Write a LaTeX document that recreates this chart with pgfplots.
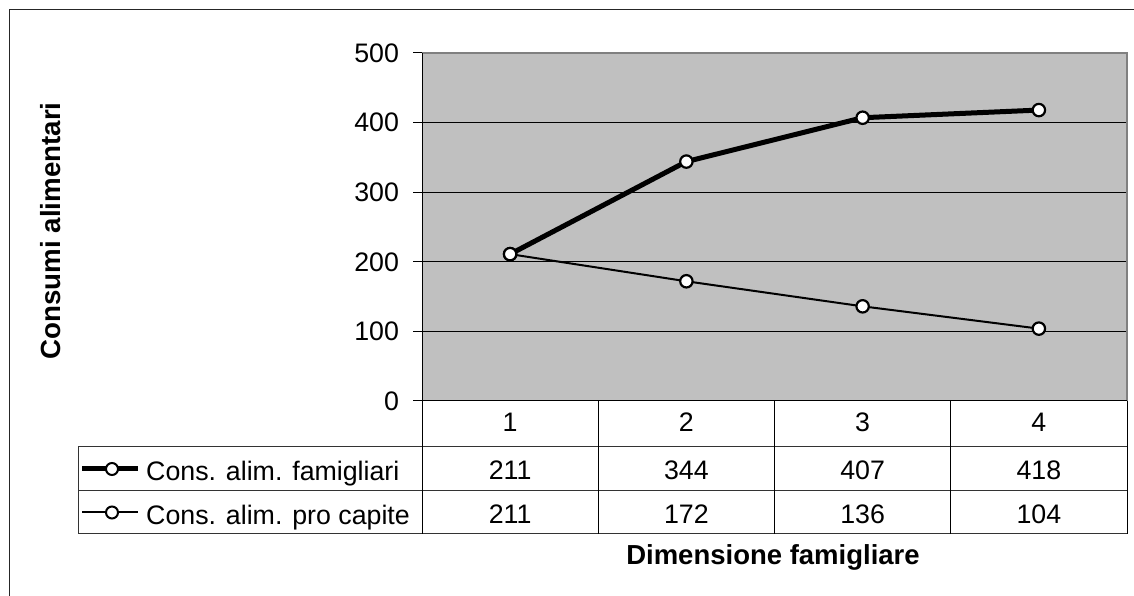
\documentclass[border=0pt]{standalone}
\usepackage{pgfplots}
\pgfplotsset{compat=1.18}
\usepackage{fontspec}
\setmainfont{Liberation Sans}
\definecolor{plotbg}{RGB}{192,192,192}
\definecolor{framegray}{RGB}{128,128,128}
\begin{document}
\fontsize{26.75}{32}\selectfont
\begin{tikzpicture}[x=1pt,y=1pt]
\useasboundingbox (0,0) rectangle (1134,596);
\draw[line width=1.5pt, black!85] (9.5,-2) -- (9.5,586.5) -- (1136,586.5);
\begin{axis}[
 at={(422pt,195pt)}, anchor=south west,
 scale only axis, width=705pt, height=348pt,
 xmin=0.5, xmax=4.5, ymin=0, ymax=500,
 xtick=\empty, ytick={0,100,...,500},
 ytick pos=left, tick align=outside, major tick length=9pt,
 tick style={black, line width=1pt},
 axis line style={draw=none},
 ymajorgrids, grid style={black, line width=1pt},
 axis background/.style={fill=plotbg},
 yticklabel style={font=\fontsize{26.75}{32}\selectfont, xshift=-5pt},
 /pgf/number format/assume math mode=true,
 clip=false,
]
\addplot[black, line width=2pt, mark=*, mark size=6.2pt, mark options={fill=white, draw=black, line width=2.2pt}]
 coordinates {(1,211) (2,172) (3,136) (4,104)};
\addplot[black, line width=5pt, mark=*, mark size=6.2pt, mark options={fill=white, draw=black, line width=2.2pt}]
 coordinates {(1,211) (2,344) (3,407) (4,418)};
\draw[framegray, line width=1.5pt] (rel axis cs:0,1) -- (rel axis cs:1,1) -- (rel axis cs:1,0);
\draw[black, line width=1pt] (rel axis cs:0,0) -- (rel axis cs:0,1);
\end{axis}
% data table grid
\draw[black, line width=1pt] (422,195) -- (1127,195);
\draw[black!80, line width=1pt] (78,149) -- (1127,149) (78,105) -- (1127,105) (78,62) -- (1127,62);
\draw[black!80, line width=1pt] (78,149) -- (78,62);
\draw[black, line width=1pt] (422,195) -- (422,62) (598.25,195) -- (598.25,62) (774.5,195) -- (774.5,62) (950.75,195) -- (950.75,62) (1127,195) -- (1127,62);
% categories
\foreach \x/\t in {510.1/1,686.4/2,862.6/3,1038.9/4} \node[anchor=base, inner sep=0] at (\x,164) {\t};
\foreach \x/\t in {510.1/211,686.4/344,862.6/407,1038.9/418} \node[anchor=base, inner sep=0] at (\x,116) {\t};
\foreach \x/\t in {510.1/211,686.4/172,862.6/136,1038.9/104} \node[anchor=base, inner sep=0] at (\x,72) {\t};
% legend keys
\draw[black, line width=5pt] (82,127) -- (138,127);
\draw[black, line width=2pt, fill=white] (112,127) circle (6pt);
\node[anchor=base west, inner sep=0] at (146,115) {Cons. alim. famigliari};
\draw[black, line width=2pt] (82,83.5) -- (138,83.5);
\draw[black, line width=2pt, fill=white] (112,83.5) circle (6pt);
\node[anchor=base west, inner sep=0] at (146,71) {Cons. alim. pro capite};
% axis titles
\node[rotate=90, font=\fontsize{27.7}{33}\selectfont\bfseries, inner sep=0] at (51,365) {Consumi alimentari};
\node[anchor=base, font=\fontsize{27.5}{33}\selectfont\bfseries, inner sep=0] at (773,31) {Dimensione famigliare};
\end{tikzpicture}
\end{document}
